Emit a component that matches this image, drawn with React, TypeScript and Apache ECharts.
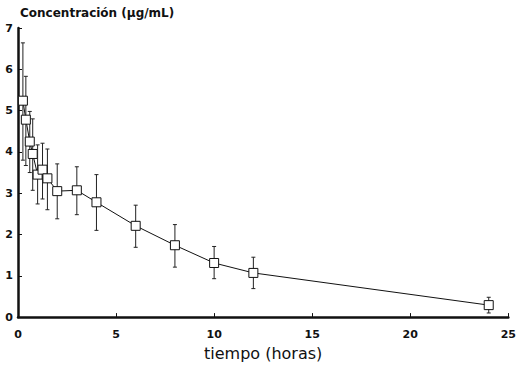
import React, { useEffect, useRef } from "react";
import * as echarts from "echarts";

const times = [0.25, 0.4, 0.6, 0.75, 1, 1.25, 1.5, 2, 3, 4, 6, 8, 10, 12, 24];
const means = [5.24, 4.78, 4.25, 3.95, 3.45, 3.57, 3.36, 3.05, 3.07, 2.78, 2.21, 1.74, 1.31, 1.07, 0.29];
const upper = [6.64, 5.83, 4.98, 4.8, 4.17, 4.21, 4.07, 3.71, 3.64, 3.45, 2.71, 2.24, 1.71, 1.45, 0.48];
const lower = [3.8, 3.67, 3.5, 3.07, 2.74, 2.86, 2.6, 2.38, 2.48, 2.1, 1.69, 1.21, 0.93, 0.69, 0.1];

const yTitle = "Concentración (µg/mL)";
const xTitle = "tiempo (horas)";

export default function App() {
  const ref = useRef<HTMLDivElement>(null);
  useEffect(() => {
    if (!ref.current) return;
    const chart = echarts.init(ref.current, undefined, { renderer: "svg" });
    const font = "'DejaVu Sans', 'Liberation Sans', Arial, sans-serif";
    chart.setOption({
      animation: false,
      backgroundColor: "#ffffff",
      grid: { left: 18, right: 7, top: 28, bottom: 44, containLabel: false },
      graphic: [
        {
          type: "text",
          left: 20,
          top: 7,
          style: { text: yTitle, fontSize: 12, fontFamily: font, fill: "#111", fontWeight: "bold" },
        },
      ],
      xAxis: {
        type: "value",
        min: 0,
        max: 25,
        interval: 5,
        name: xTitle,
        nameLocation: "middle",
        nameGap: 25,
        nameTextStyle: { fontSize: 16, fontFamily: font, color: "#111" },
        axisLine: { onZero: false, lineStyle: { color: "#111", width: 2.5 } },
        axisTick: { inside: true, length: 4, lineStyle: { color: "#111", width: 1 } },
        axisLabel: { fontSize: 11, fontWeight: "bold", fontFamily: font, color: "#111", margin: 12 },
        splitLine: { show: false },
      },
      yAxis: {
        type: "value",
        min: 0,
        max: 7,
        interval: 1,
        axisLine: { show: true, onZero: false, lineStyle: { color: "#111", width: 2.5 } },
        axisTick: { show: true, inside: true, length: 4, lineStyle: { color: "#111", width: 1 } },
        axisLabel: { fontSize: 11, fontWeight: "bold", fontFamily: font, color: "#111", margin: 5 },
        splitLine: { show: false },
      },
      series: [
        {
          type: "custom",
          data: times.map((t, i) => [t, lower[i], upper[i]]),
          renderItem: (params: any, api: any) => {
            const lo = api.coord([api.value(0), api.value(1)]);
            const hi = api.coord([api.value(0), api.value(2)]);
            const cw = 2;
            const st = { stroke: "#222", lineWidth: 1 };
            return {
              type: "group",
              children: [
                { type: "line", shape: { x1: lo[0], y1: lo[1], x2: hi[0], y2: hi[1] }, style: st },
                { type: "line", shape: { x1: lo[0] - cw, y1: lo[1], x2: lo[0] + cw, y2: lo[1] }, style: st },
                { type: "line", shape: { x1: hi[0] - cw, y1: hi[1], x2: hi[0] + cw, y2: hi[1] }, style: st },
              ],
            };
          },
          z: 1,
        },
        {
          type: "line",
          data: times.map((t, i) => [t, means[i]]),
          symbol: "rect",
          symbolSize: 9,
          lineStyle: { color: "#111", width: 1 },
          itemStyle: { color: "#ffffff", borderColor: "#111", borderWidth: 1 },
          z: 3,
        },
      ],
    });
    return () => chart.dispose();
  }, []);
  return <div ref={ref} style={{ position: "fixed", left: 0, top: 0, width: 519, height: 366 }} />;
}
